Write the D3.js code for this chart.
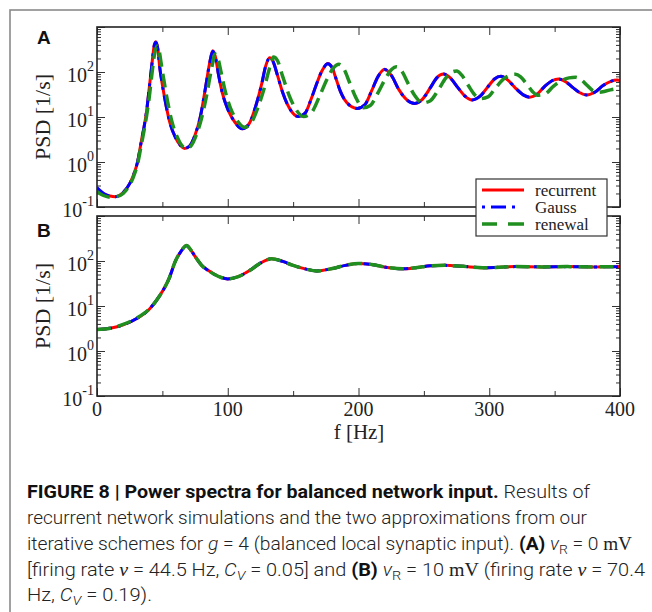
<!DOCTYPE html>
<html>
<head>
<meta charset="utf-8">
<script src="https://cdn.jsdelivr.net/npm/d3@7"></script>
<style>
  body { margin: 0; background: #fff; }
</style>
</head>
<body>
<div id="chart"></div>
<script>
// Data (f in Hz, PSD in 1/s)

// panel A, recurrent + Gauss share the frequency grid
var freqA = [0, 5, 10, 14, 20, 25, 28, 31, 34, 36, 38, 40, 42, 44, 45, 46.5, 48, 50, 53, 56, 60, 64, 67, 71, 75, 79, 83, 86, 88.5, 90.5, 93, 96, 100, 105, 111, 116, 122, 126, 129, 132, 134.5, 138, 142, 147, 154, 159, 164, 168, 172, 176.5, 180, 183, 186, 191, 199, 205, 210, 215, 220, 225, 231, 237, 243, 249, 255, 260, 265, 270, 276, 281, 287, 293, 299, 304, 309, 314, 320, 326, 331, 337, 343, 348, 353, 358, 364, 369, 374.5, 381, 387, 393, 398, 400];
var recurrentA = [0.26, 0.2, 0.175, 0.17, 0.21, 0.33, 0.52, 1.0, 3.0, 6, 14, 45, 150, 420, 470, 330, 125, 52, 17, 7, 3.5, 2.3, 2.0, 2.3, 4, 10, 45, 150, 295, 220, 85, 33, 15, 8, 5.5, 6.8, 20, 55, 135, 208, 175, 85, 35, 16, 10.2, 12, 26, 55, 105, 155, 122, 68, 38, 21, 15.5, 19, 38, 80, 115, 85, 40, 24, 20, 25, 45, 75, 90, 75, 45, 30, 24, 29, 47, 70, 80, 67, 44, 31, 27.5, 33, 50, 64, 70, 62, 45, 35, 31, 36, 50, 62, 66, 65];
var gaussA = [0.27, 0.2, 0.175, 0.17, 0.21, 0.33, 0.52, 1.0, 3.0, 6, 14, 45, 150, 410, 460, 330, 125, 52, 17, 7, 3.5, 2.3, 2.0, 2.3, 4, 10, 45, 150, 290, 220, 85, 33, 15, 8, 5.5, 6.8, 20, 55, 135, 205, 175, 85, 35, 16, 10.2, 12, 26, 55, 105, 152, 122, 68, 38, 21, 15.5, 19, 38, 80, 113, 85, 40, 24, 20, 25, 45, 75, 90, 75, 45, 30, 24, 29, 47, 70, 80, 67, 44, 31, 27.5, 33, 50, 64, 70, 62, 45, 35, 31, 36, 50, 62, 66, 65];

// panel A, renewal
var freqRenewalA = [0, 5, 10, 15, 20, 25, 28, 31, 34, 36, 38, 40, 42, 44, 46, 47.5, 49, 51, 54, 57, 61, 65, 68.5, 72, 76, 80, 84, 87.5, 90.5, 92.5, 95, 98, 102, 107, 113, 118, 123, 128, 131.5, 135, 138, 142, 147, 152, 158, 164, 170, 176, 181, 185, 189, 193, 198, 203.5, 209, 215, 221, 225.5, 229, 233, 238, 243, 249, 255, 261, 267, 271, 275, 279, 284, 288.5, 293, 299, 305, 311, 316, 320, 324, 329, 333, 337, 343, 349, 355, 361, 366, 370, 375, 379, 383, 388, 394, 400];
var renewalA = [0.22, 0.18, 0.165, 0.17, 0.2, 0.31, 0.48, 0.9, 2.5, 5, 11, 28, 90, 250, 380, 300, 160, 70, 22, 8.5, 3.8, 2.3, 2.0, 2.3, 4, 9.5, 32, 115, 250, 200, 95, 38, 16, 8.5, 5.9, 7.5, 16, 45, 110, 215, 180, 80, 30, 15, 10.2, 12.5, 28, 70, 125, 148, 115, 60, 27, 16, 18, 35, 75, 115, 130, 105, 55, 30, 20.5, 23, 40, 75, 98, 105, 85, 50, 32, 25.5, 28, 45, 70, 85, 89, 78, 52, 37, 30.5, 33, 48, 64, 74, 76, 68, 50, 39, 35.5, 37, 41, 43];

// panel B, all three nearly coincide
var freqB = [0, 10, 20, 30, 40, 48, 55, 60, 64, 68.5, 72, 76, 80, 85, 90, 95, 100, 108, 117, 125, 133.5, 142, 150, 160, 168, 180, 190, 200, 210, 222, 234, 245, 255, 266, 280, 295, 305, 320, 340, 360, 380, 400];
var recurrentB = [3.0, 3.2, 3.8, 5.2, 8.5, 17, 40, 100, 160, 220, 170, 115, 80, 62, 50, 43, 40, 45, 62, 90, 112, 98, 80, 66, 60, 68, 80, 88, 84, 72, 67, 72, 78, 80, 76, 71, 72, 75, 74, 75, 74, 75];
var gaussB = [3.0, 3.2, 3.8, 5.2, 8.5, 17, 40, 100, 160, 218, 170, 115, 80, 62, 50, 43, 40, 45, 62, 90, 111, 98, 80, 66, 60, 68, 80, 88, 84, 72, 67, 72, 78, 80, 76, 71, 72, 75, 74, 75, 74, 75];
var renewalB = [3.0, 3.2, 3.9, 5.3, 8.6, 17, 40, 100, 160, 222, 172, 115, 80, 62, 50, 43, 40, 45, 62, 90, 112, 98, 80, 66, 60, 68, 80, 88, 84, 72, 67, 72, 78, 80, 76, 71, 72, 75, 74, 75, 74, 75];

var xTicks = [0, 100, 200, 300, 400];
var xMinorTicks = [50, 150, 250, 350];
var yExponents = [-1, 0, 1, 2];
var legendLabels = ["recurrent", "Gauss", "renewal"];

var W = 652, H = 612;
var left = 97, right = 620;
var serif = "'Times New Roman', 'Liberation Serif', Times, serif";

var svg = d3.select("#chart")
  .append("svg")
    .attr("width", W)
    .attr("height", H);

// outer figure frame (cut off at right and bottom)
svg.append("rect")
    .attr("x", 10).attr("y", 10)
    .attr("width", 700).attr("height", 700)
    .attr("fill", "none")
    .attr("stroke", "#8a8a8a")
    .attr("stroke-width", 1.6);

var x = d3.scaleLinear()
    .domain([0, 400])
    .range([left, right]);

// series styles
var styles = {
  recurrent: { color: "#ff0000", width: 3, dash: null },
  gauss: { color: "#0000ff", width: 3, dash: "15 6 3 6" },
  renewal: { color: "#1f8f1f", width: 3.5, dash: "14 7" }
};

var panels = [
  { top: 27, bottom: 207, label: "A", labelY: 44, series: [
      { f: freqA, v: recurrentA, s: styles.recurrent },
      { f: freqA, v: gaussA, s: styles.gauss },
      { f: freqRenewalA, v: renewalA, s: styles.renewal } ] },
  { top: 216, bottom: 396, label: "B", labelY: 237, series: [
      { f: freqB, v: recurrentB, s: styles.recurrent },
      { f: freqB, v: gaussB, s: styles.gauss },
      { f: freqB, v: renewalB, s: styles.renewal } ] }
];

// minor tick values 2..9 in each decade
var minorY = [];
[0.1, 1, 10, 100].forEach(function(d) {
  for (var k = 2; k <= 9; k++) minorY.push(d * k);
});

panels.forEach(function(p, i) {
  var y = d3.scaleLog()
      .domain([0.1, 1000])
      .range([p.bottom, p.top]);

  var g = svg.append("g");

  // clip for curves
  g.append("clipPath").attr("id", "clip" + i)
    .append("rect")
      .attr("x", left).attr("y", p.top)
      .attr("width", right - left).attr("height", p.bottom - p.top);

  // ticks (all pointing inward)
  function ticks(axis, tx, ty) {
    var a = g.append("g")
        .attr("transform", "translate(" + tx + "," + ty + ")")
        .call(axis);
    a.select(".domain").remove();
    a.selectAll("line").attr("stroke", "#333").attr("stroke-width", 1);
    a.selectAll("text").remove();
  }
  ticks(d3.axisLeft(y).tickValues([0.1, 1, 10, 100, 1000]).tickSize(-8), left, 0);
  ticks(d3.axisLeft(y).tickValues(minorY).tickSize(-4), left, 0);
  ticks(d3.axisRight(y).tickValues([0.1, 1, 10, 100, 1000]).tickSize(-8), right, 0);
  ticks(d3.axisRight(y).tickValues(minorY).tickSize(-4), right, 0);
  ticks(d3.axisBottom(x).tickValues(xTicks).tickSize(-8), 0, p.bottom);
  ticks(d3.axisBottom(x).tickValues(xMinorTicks).tickSize(-5), 0, p.bottom);
  ticks(d3.axisTop(x).tickValues(xTicks).tickSize(-8), 0, p.top);
  ticks(d3.axisTop(x).tickValues(xMinorTicks).tickSize(-5), 0, p.top);

  // curves
  var line = d3.line()
      .x(function(d) { return x(d[0]); })
      .y(function(d) { return y(d[1]); })
      .curve(d3.curveMonotoneX);

  p.series.forEach(function(s) {
    var pts = s.f.map(function(f, j) { return [f, s.v[j]]; });
    g.append("path")
        .datum(pts)
        .attr("clip-path", "url(#clip" + i + ")")
        .attr("fill", "none")
        .attr("stroke", s.s.color)
        .attr("stroke-width", s.s.width)
        .attr("stroke-dasharray", s.s.dash)
        .attr("d", line);
  });

  // plot frame
  g.append("rect")
      .attr("x", left).attr("y", p.top)
      .attr("width", right - left).attr("height", p.bottom - p.top)
      .attr("fill", "none")
      .attr("stroke", "#222")
      .attr("stroke-width", 1.6);

  // y tick labels 10^n
  var lab = g.selectAll(".ylab")
    .data(yExponents)
    .enter()
    .append("text")
      .attr("x", 94)
      .attr("y", function(d) { return y(Math.pow(10, d)) + 9.5; })
      .attr("text-anchor", "end")
      .style("font-family", serif)
      .style("fill", "#222");
  lab.append("tspan").style("font-size", "20px").text("10");
  lab.append("tspan").style("font-size", "14px").attr("dy", -10.5)
      .text(function(d) { return d; });

  // y axis title
  g.append("text")
      .attr("transform", "translate(50," + ((p.top + p.bottom) / 2) + ") rotate(-90)")
      .attr("text-anchor", "middle")
      .style("font-family", serif)
      .style("font-size", "22px")
      .style("fill", "#222")
      .text("PSD [1/s]");

  // panel letter
  g.append("text")
      .attr("x", 37).attr("y", p.labelY)
      .style("font-family", "'Liberation Sans', Arial, sans-serif")
      .style("font-weight", "bold")
      .style("font-size", "19px")
      .style("fill", "#111")
      .text(p.label);

  // x tick labels only on the bottom panel
  if (i == 1) {
    g.selectAll(".xlab")
      .data(xTicks)
      .enter()
      .append("text")
        .attr("x", function(d) { return x(d); })
        .attr("y", 416)
        .attr("text-anchor", "middle")
        .style("font-family", serif)
        .style("font-size", "20px")
        .style("fill", "#222")
        .text(function(d) { return d; });

    g.append("text")
        .attr("x", 359).attr("y", 439)
        .attr("text-anchor", "middle")
        .style("font-family", serif)
        .style("font-size", "21px")
        .style("fill", "#222")
        .text("f [Hz]");
  }
});

// legend (drawn last, it overlaps panel B's top edge)
var leg = svg.append("g");
leg.append("rect")
    .attr("x", 476).attr("y", 179)
    .attr("width", 131).attr("height", 57)
    .attr("fill", "#fff")
    .attr("stroke", "#333")
    .attr("stroke-width", 1.2);

var legStyles = [styles.recurrent, styles.gauss, styles.renewal];
var legDash = [null, "3 6 15 6 3 20", "15 11 16"];
legendLabels.forEach(function(name, k) {
  var yy = 196 + k * 17;
  leg.append("line")
      .attr("x1", 482).attr("x2", 524)
      .attr("y1", yy - 6).attr("y2", yy - 6)
      .attr("stroke", legStyles[k].color)
      .attr("stroke-width", legStyles[k].width)
      .attr("stroke-dasharray", legDash[k]);
  leg.append("text")
      .attr("x", 535).attr("y", yy)
      .style("font-family", serif)
      .style("font-size", "17px")
      .style("fill", "#222")
      .text(name);
});

// caption
var capFont = "Roboto, 'Liberation Sans', sans-serif";
var cap = svg.append("g")
    .style("font-family", capFont)
    .style("font-size", "18px")
    .style("font-weight", 300)
    .style("fill", "#222");

function capLine(yy, len, parts) {
  var t = cap.append("text")
      .attr("x", 27).attr("y", yy)
      .attr("textLength", len)
      .attr("lengthAdjust", "spacingAndGlyphs");
  parts.forEach(function(p) {
    var s = t.append("tspan").text(p.t);
    if (p.b) s.style("font-weight", 700).style("fill", "#111");
    if (p.i) s.style("font-style", "italic");
    if (p.serif) s.style("font-family", serif).style("font-weight", 400);
    if (p.sub) s.style("font-size", "13px").attr("dy", 4);
    if (p.up) s.attr("dy", -4);
  });
}

capLine(498, 563, [
  { t: "FIGURE 8 | Power spectra for balanced network input.", b: true },
  { t: " Results of" }
]);
capLine(524, 560, [
  { t: "recurrent network simulations and the two approximations from our" }
]);
capLine(550, 605, [
  { t: "iterative schemes for " }, { t: "g", i: true },
  { t: " = 4 (balanced local synaptic input). " }, { t: "(A)", b: true },
  { t: " " }, { t: "v", i: true }, { t: "R", sub: true },
  { t: " = 0 ", up: true }, { t: "mV", serif: true }
]);
capLine(576, 618, [
  { t: "[firing rate " }, { t: "ν", i: true, serif: true },
  { t: " = 44.5 Hz, " }, { t: "C", i: true }, { t: "V", i: true, sub: true },
  { t: " = 0.05] and ", up: true }, { t: "(B)", b: true }, { t: " " },
  { t: "v", i: true }, { t: "R", sub: true }, { t: " = 10 ", up: true },
  { t: "mV", serif: true }, { t: " (firing rate " }, { t: "ν", i: true, serif: true },
  { t: " = 70.4" }
]);
capLine(601, 125, [
  { t: "Hz, " }, { t: "C", i: true }, { t: "V", i: true, sub: true },
  { t: " = 0.19).", up: true }
]);
</script>
</body>
</html>
